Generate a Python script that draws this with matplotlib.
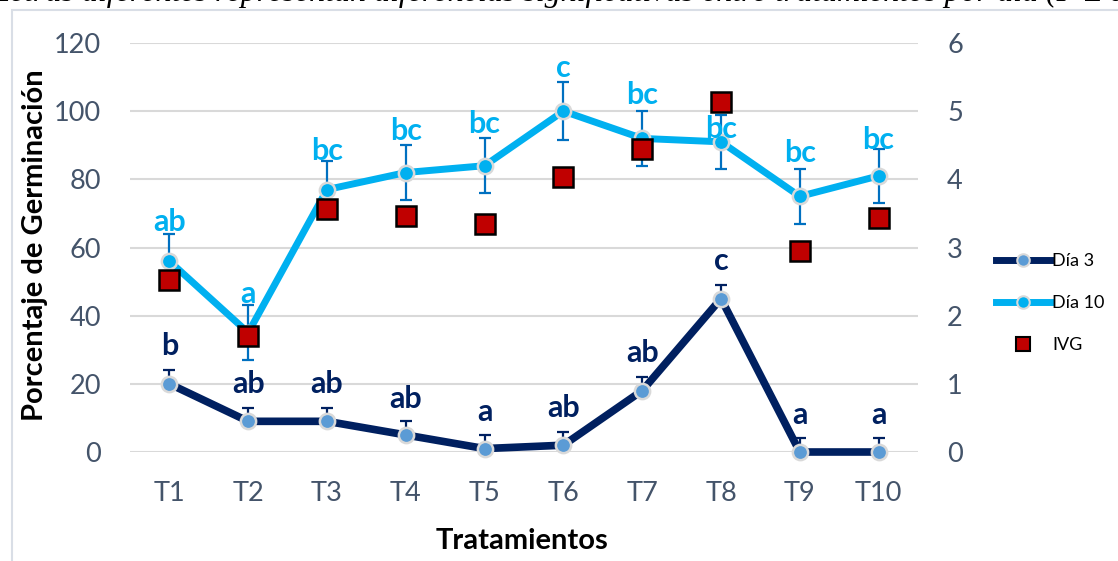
import matplotlib
matplotlib.use("Agg")
import matplotlib.pyplot as plt
from matplotlib.lines import Line2D
from matplotlib.patches import Rectangle

# ---- data -------------------------------------------------------------
tratamientos = ["T1", "T2", "T3", "T4", "T5", "T6", "T7", "T8", "T9", "T10"]

dia3 = [20, 9, 9, 5, 1, 2, 18, 45, 0, 0]
dia3_err = [4, 4, 4, 4, 4, 4, 4, 4, 4, 4]
dia3_letras = ["b", "ab", "ab", "ab", "a", "ab", "ab", "c", "a", "a"]

dia10 = [56, 35, 77, 82, 84, 100, 92, 91, 75, 81]
dia10_err = [8, 8, 8.5, 8, 8, 8.5, 8, 8, 8, 8]
dia10_letras = ["ab", "a", "bc", "bc", "bc", "c", "bc", "bc", "bc", "bc"]

ivg = [2.52, 1.70, 3.57, 3.46, 3.34, 4.03, 4.45, 5.13, 2.95, 3.44]

# vertical offsets (points) of the significance letters
dia3_off = [27, 27, 27, 26, 26, 27, 27, 27, 27, 27]
dia10_off = [28, 28, 28, 30, 30, 31, 31, 9, 31, 26]

# ---- style ------------------------------------------------------------
FONT = "Lato"
NAVY = "#002060"
SKY = "#00B0F0"
ERR10 = "#0070C0"
MARK3 = "#5B9BD5"
EDGE = "#D9D9D9"
TICK = "#44546A"
GRID = "#D9D9D9"
RED = "#C00000"

plt.rcParams["font.family"] = [FONT, "DejaVu Sans"]

fig = plt.figure(figsize=(11.18, 5.61), dpi=100)
fig.patch.set_facecolor("white")

# outer frame of the chart object
fig.patches.append(Rectangle((12 / 1118, -0.05), 1.2, 1 - 10 / 561 + 0.05,
                             transform=fig.transFigure, fill=False,
                             edgecolor="#D9DEE6", lw=1.5, zorder=0))

# caption text above the chart, cut by the top edge
fig.text(-8 / 1118, 1 - 1 / 561,
         "Letras diferentes representan diferencias significativas entre tratamientos por día (P ≤ 0.05)",
         family=["Liberation Serif"], style="italic", fontsize=23,
         ha="left", va="baseline", color="black")

ax = fig.add_axes([130 / 1118, 1 - 452 / 561, 788 / 1118, 409 / 561])
ax2 = ax.twinx()

x = list(range(len(tratamientos)))

ax.set_xlim(-0.5, len(tratamientos) - 0.5)
ax.set_ylim(0, 120)
ax.set_yticks(range(0, 121, 20))
ax2.set_ylim(0, 6)
ax2.set_yticks(range(0, 7))

ax.set_xticks(x)
ax.set_xticklabels(tratamientos)

for a in (ax, ax2):
    for s in a.spines.values():
        s.set_visible(False)
    a.tick_params(length=0, labelsize=19.5, labelcolor=TICK)
ax.tick_params(axis="y", pad=21)
ax2.tick_params(axis="y", pad=21)
ax.tick_params(axis="x", pad=21)

ax.grid(axis="y", color=GRID, lw=1.5)
ax.set_axisbelow(True)

# Día 3: upper error bars only
ax.errorbar(x, dia3, yerr=[[0] * len(dia3), dia3_err], fmt="none",
            ecolor=NAVY, elinewidth=1.6, capsize=4, capthick=1.6, zorder=2)
ax.plot(x, dia3, color=NAVY, lw=5.5, marker="o", ms=11,
        mfc=MARK3, mec=EDGE, mew=1.8, zorder=3, clip_on=False)

# Día 10
ax.errorbar(x, dia10, yerr=dia10_err, fmt="none", ecolor=ERR10,
            elinewidth=1.6, capsize=4.5, capthick=1.6, zorder=2)
ax.plot(x, dia10, color=SKY, lw=5, marker="o", ms=11,
        mfc=SKY, mec=EDGE, mew=1.8, zorder=3, clip_on=False)

# IVG on the secondary axis
ax2.plot(x, ivg, ls="none", marker="s", ms=15, mfc=RED, mec="black",
         mew=1.8, zorder=4, clip_on=False)

# significance letters
for xi, yi, lab, off in zip(x, dia3, dia3_letras, dia3_off):
    ax2.annotate(lab, (xi, yi), xycoords=ax.transData, xytext=(0, off),
                 textcoords="offset points", ha="center", va="center",
                 fontsize=22, fontweight="bold", color=NAVY, zorder=6)
for xi, yi, lab, off in zip(x, dia10, dia10_letras, dia10_off):
    ax2.annotate(lab, (xi, yi), xycoords=ax.transData, xytext=(0, off),
                 textcoords="offset points", ha="center", va="center",
                 fontsize=22, fontweight="bold", color=SKY, zorder=6)

ax.set_ylabel("Porcentaje de Germinación", fontsize=21, fontweight="bold",
              color="black", va="center")
ax.yaxis.set_label_coords(-0.121, 0.506)
ax.set_xlabel("Tratamientos", fontsize=21, fontweight="bold", color="black",
              va="center")
ax.xaxis.set_label_coords(0.497, -0.218)

handles = [
    Line2D([], [], color=NAVY, lw=5, marker="o", ms=9, mfc=MARK3,
           mec=EDGE, mew=1.5),
    Line2D([], [], color=SKY, lw=5, marker="o", ms=9, mfc=SKY,
           mec=EDGE, mew=1.5),
    Line2D([], [], ls="none", marker="s", ms=10, mfc=RED, mec="black",
           mew=1.5),
]
fig.legend(handles, ["Día 3", "Día 10", "IVG"], loc="center left",
           bbox_to_anchor=(996 / 1118, 1 - 303 / 561), frameon=False,
           fontsize=13, handlelength=3.0, handletextpad=0.1,
           labelspacing=1.45, borderpad=0, borderaxespad=0, numpoints=1,
           labelcolor="black")

fig.savefig("out.png", dpi=100)
